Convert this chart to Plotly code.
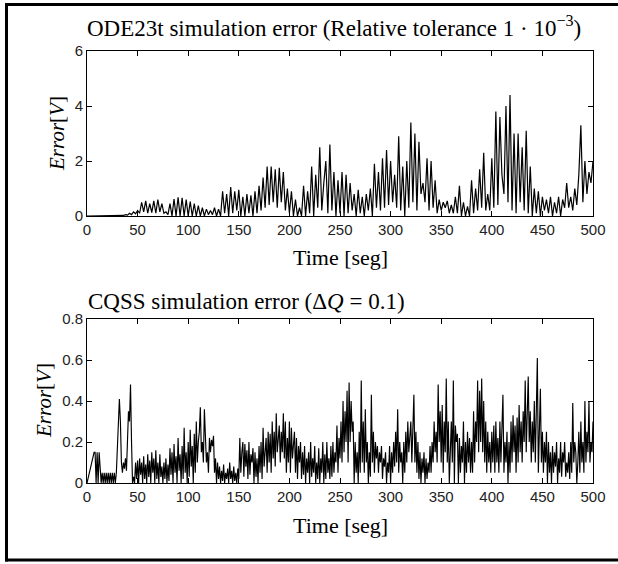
import numpy as np
import plotly.graph_objects as go

# ---------------- data ----------------
DT_ODE = 2.0   # seconds between samples, top trace
DT_CQSS = 1.0  # seconds between samples, bottom trace

ode23t_error = [
    0, 0, 0, 0, 0, 0, 0, 0, 0, 0,
    0, 0, 0, 0, 0, 0, 0, 0, 0.02, 0.05,
    0.03, 0.1, 0.05, 0.15, 0.08, 0.2, 0.1, 0.5, 0.15, 0.55,
    0.1, 0.45, 0.12, 0.55, 0.1, 0.6, 0.15, 0.45, 0.1, 0.15,
    0.05, 0.45, 0.0, 0.62, 0.0, 0.68, 0.0, 0.66, 0.0, 0.6,
    0.0, 0.52, 0.0, 0.45, 0.0, 0.38, 0.0, 0.3, 0.0, 0.25,
    0.05, 0.2, 0.05, 0.3, 0.0, 0.25, 0.0, 0.9, 0.1, 0.8,
    0.0, 1.05, 0.1, 0.9, 0.2, 0.95, 0.0, 0.7, 0.0, 0.8,
    0.1, 0.75, 0.0, 0.9, 0.1, 1.1, 0.2, 1.4, 0.3, 1.8,
    0.4, 1.8, 0.5, 1.7, 0.3, 1.75, 0.5, 1.6, 0.2, 1.0,
    0.1, 0.9, 0.0, 0.6, 0.0, 0.3, 0.0, 1.1, 0.0, 0.9,
    0.1, 1.8, 0.0, 1.5, 0.3, 2.5, 0.2, 1.2, 2.0, 0.1,
    2.6, 0.2, 1.6, 0.0, 1.3, 0.1, 1.6, 0.0, 1.5, 0.1,
    1.2, 0.2, 0.8, 0.0, 0.95, 0.1, 0.7, 0.0, 0.8, 0.2,
    1.0, 0.0, 1.9, 0.3, 1.6, 0.2, 2.1, 0.3, 2.4, 0.4,
    2.0, 0.5, 1.5, 0.3, 2.9, 0.2, 1.8, 0.0, 2.0, 0.3,
    3.4, 0.5, 3.0, 0.2, 2.7, 0.8, 1.2, 0.5, 2.1, 0.2,
    2.0, 0.3, 1.3, 0.1, 0.6, 0.2, 0.5, 0.3, 0.55, 0.1,
    0.4, 0.1, 0.7, 0.1, 1.1, 0.0, 0.5, 0.0, 0.35, 0.0,
    1.3, 0.1, 1.0, 0.2, 1.7, 0.3, 2.3, 0.2, 0.8, 0.2,
    2.1, 0.3, 3.8, 0.4, 3.6, 1.5, 0.8, 4.0, 0.5, 4.4,
    0.2, 3.0, 0.1, 3.0, 0.5, 2.5, 0.2, 3.1, 0.1, 1.8,
    0.0, 1.0, 0.1, 0.9, 0.0, 0.7, 0.2, 0.6, 0.1, 0.7,
    0.0, 0.5, 0.1, 0.7, 0.0, 0.6, 0.3, 1.2, 0.3, 0.7,
    0.2, 1.0, 0.4, 1.5, 3.3, 0.5, 2.0, 0.8, 1.6, 1.2,
    2.0,
]

cqss_error = [
    0, 0.02, 0.04, 0.06, 0.08, 0.1, 0.12, 0.15, 0.15, 0.0, 0.15, 0.0, 0.15, 0.05, 0.0, 0.05, 0.0, 0.05, 0.0, 0.05,
    0.0, 0.05, 0.0, 0.05, 0.0, 0.05, 0.0, 0.05, 0.0, 0.05, 0.2, 0.35, 0.41, 0.3, 0.1, 0.05, 0.1, 0.07, 0.12, 0.06,
    0.2, 0.35, 0.3, 0.48, 0.2, 0.0, 0.03, 0.0, 0.1, 0.02, 0.11, 0.0, 0.12, 0.04, 0.1, 0.0, 0.13, 0.02, 0.09, 0.0,
    0.14, 0.03, 0.11, 0.0, 0.15, 0.05, 0.12, 0.0, 0.16, 0.02, 0.1, 0.0, 0.14, 0.03, 0.08, 0.0, 0.1, 0.02, 0.12, 0.0,
    0.09, 0.01, 0.17, 0.04, 0.15, 0.0, 0.19, 0.05, 0.13, 0.0, 0.22, 0.06, 0.14, 0.0, 0.18, 0.02, 0.27, 0.05, 0.15, 0.0,
    0.2, 0.03, 0.26, 0.08, 0.18, 0.0, 0.24, 0.05, 0.3, 0.1, 0.2, 0.25, 0.37, 0.15, 0.2, 0.1, 0.36, 0.2, 0.1, 0.15,
    0.05, 0.22, 0.15, 0.21, 0.18, 0.23, 0.05, 0.12, 0.0, 0.1, 0.02, 0.08, 0.0, 0.06, 0.01, 0.09, 0.0, 0.05, 0.02, 0.07,
    0.0, 0.1, 0.02, 0.06, 0.0, 0.08, 0.01, 0.05, 0.0, 0.07, 0.02, 0.22, 0.05, 0.15, 0.2, 0.03, 0.19, 0.08, 0.16, 0.02,
    0.2, 0.04, 0.14, 0.1, 0.17, 0.0, 0.15, 0.03, 0.12, 0.0, 0.18, 0.05, 0.2, 0.02, 0.27, 0.08, 0.15, 0.22, 0.05, 0.25,
    0.1, 0.24, 0.05, 0.3, 0.12, 0.25, 0.08, 0.34, 0.15, 0.2, 0.28, 0.1, 0.25, 0.15, 0.34, 0.12, 0.3, 0.05, 0.22, 0.1,
    0.3, 0.05, 0.27, 0.12, 0.2, 0.25, 0.05, 0.22, 0.02, 0.18, 0.1, 0.2, 0.02, 0.15, 0.04, 0.18, 0.0, 0.12, 0.05, 0.15,
    0.0, 0.2, 0.03, 0.12, 0.05, 0.18, 0.0, 0.1, 0.02, 0.17, 0.0, 0.12, 0.05, 0.2, 0.0, 0.14, 0.02, 0.2, 0.05, 0.12,
    0.02, 0.18, 0.03, 0.2, 0.05, 0.15, 0.1, 0.28, 0.05, 0.22, 0.12, 0.3, 0.1, 0.4, 0.15, 0.35, 0.2, 0.45, 0.1, 0.49,
    0.2, 0.4, 0.25, 0.3, 0.0, 0.2, 0.05, 0.15, 0.0, 0.25, 0.05, 0.5, 0.1, 0.3, 0.05, 0.36, 0.1, 0.2, 0.0, 0.15,
    0.03, 0.43, 0.1, 0.25, 0.05, 0.2, 0.12, 0.18, 0.05, 0.15, 0.1, 0.18, 0.02, 0.12, 0.08, 0.15, 0.0, 0.1, 0.05, 0.18,
    0.0, 0.15, 0.05, 0.2, 0.08, 0.25, 0.1, 0.36, 0.05, 0.2, 0.1, 0.15, 0.0, 0.2, 0.05, 0.25, 0.1, 0.3, 0.15, 0.22,
    0.3, 0.1, 0.25, 0.43, 0.1, 0.25, 0.05, 0.2, 0.02, 0.15, 0.0, 0.12, 0.05, 0.15, 0.0, 0.12, 0.02, 0.1, 0.05, 0.18,
    0.05, 0.2, 0.1, 0.3, 0.15, 0.25, 0.1, 0.48, 0.2, 0.35, 0.1, 0.38, 0.05, 0.3, 0.15, 0.51, 0.1, 0.3, 0.0, 0.2,
    0.3, 0.1, 0.5, 0.0, 0.28, 0.2, 0.24, 0.0, 0.22, 0.05, 0.18, 0.1, 0.3, 0.0, 0.2, 0.05, 0.25, 0.1, 0.22, 0.05,
    0.2, 0.05, 0.35, 0.1, 0.3, 0.2, 0.5, 0.15, 0.45, 0.2, 0.51, 0.15, 0.4, 0.1, 0.3, 0.05, 0.25, 0.1, 0.2, 0.05,
    0.25, 0.1, 0.28, 0.05, 0.3, 0.1, 0.22, 0.05, 0.3, 0.1, 0.25, 0.43, 0.05, 0.2, 0.1, 0.25, 0.0, 0.2, 0.05, 0.3,
    0.1, 0.33, 0.15, 0.28, 0.05, 0.32, 0.1, 0.38, 0.15, 0.3, 0.1, 0.35, 0.2, 0.5, 0.15, 0.3, 0.52, 0.2, 0.35, 0.1,
    0.3, 0.15, 0.4, 0.1, 0.35, 0.61, 0.05, 0.3, 0.46, 0.1, 0.25, 0.05, 0.2, 0.1, 0.25, 0.0, 0.2, 0.05, 0.15, 0.0,
    0.18, 0.05, 0.15, 0.08, 0.2, 0.0, 0.12, 0.05, 0.2, 0.03, 0.15, 0.1, 0.2, 0.03, 0.1, 0.05, 0.15, 0.02, 0.2, 0.05,
    0.39, 0.1, 0.2, 0.15, 0.0, 0.1, 0.25, 0.05, 0.3, 0.1, 0.2, 0.05, 0.4, 0.1, 0.25, 0.15, 0.4, 0.1, 0.2, 0.15,
    0.3,
]

time_ode = np.arange(len(ode23t_error)) * DT_ODE
time_cqss = np.arange(len(cqss_error)) * DT_CQSS

x_ticks = [0, 50, 100, 150, 200, 250, 300, 350, 400, 450, 500]
y_ticks_top = [0, 2, 4, 6]
y_ticks_bot = [0, 0.2, 0.4, 0.6, 0.8]

title_top = "ODE23t simulation error (Relative tolerance 1 · 10<sup>−3</sup>)"
title_bot = "CQSS simulation error (Δ<i>Q</i> = 0.1)"
x_label = "Time [seg]"
y_label = "<i>Error</i>[<i>V</i>]"

# ---------------- layout helpers ----------------
W, H = 618, 564
def px_x(x):
    return x / W
def px_y(y):
    return 1 - y / H

SERIF = "Liberation Serif"
SANS = "Liberation Sans"

fig = go.Figure()
fig.add_trace(go.Scatter(x=time_ode, y=ode23t_error, mode="lines",
                         line=dict(color="black", width=1.2),
                         xaxis="x", yaxis="y", showlegend=False))
fig.add_trace(go.Scatter(x=time_cqss, y=cqss_error, mode="lines",
                         line=dict(color="black", width=1.15),
                         xaxis="x2", yaxis="y2", showlegend=False))

axis_common = dict(showline=True, linecolor="black", linewidth=1, mirror="ticks",
                   ticks="inside", ticklen=5, tickcolor="black", tickwidth=1,
                   showgrid=False, zeroline=False, automargin=False,
                   tickfont=dict(family=SANS, size=15, color="#222"))

x_dom = [px_x(87), px_x(593)]
fig.update_layout(
    template="none",
    width=W, height=H,
    margin=dict(l=0, r=0, t=0, b=0, pad=0, autoexpand=False),
    paper_bgcolor="white", plot_bgcolor="white",
    xaxis=dict(domain=x_dom, range=[0, 500], tickvals=x_ticks, anchor="y", **axis_common),
    yaxis=dict(domain=[px_y(216), px_y(51)], range=[0, 6], tickvals=y_ticks_top, anchor="x", **axis_common),
    xaxis2=dict(domain=x_dom, range=[0, 500], tickvals=x_ticks, anchor="y2", **axis_common),
    yaxis2=dict(domain=[px_y(483), px_y(319)], range=[0, 0.8], tickvals=y_ticks_bot,
                tickformat="~g", anchor="x2", **axis_common),
)

ann = []
ann.append(dict(text=title_top, x=px_x(85), y=px_y(27), xref="paper", yref="paper",
                xanchor="left", yanchor="middle", showarrow=False,
                font=dict(family=SERIF, size=23, color="black")))
ann.append(dict(text=title_bot, x=px_x(86), y=px_y(301), xref="paper", yref="paper",
                xanchor="left", yanchor="middle", showarrow=False,
                font=dict(family=SERIF, size=23, color="black")))
for yc in (258, 525):
    ann.append(dict(text=x_label, x=px_x(340), y=px_y(yc), xref="paper", yref="paper",
                    xanchor="center", yanchor="middle", showarrow=False,
                    font=dict(family=SERIF, size=22, color="black")))
for xc, yc in ((57, 134), (44, 401)):
    ann.append(dict(text=y_label, x=px_x(xc), y=px_y(yc), xref="paper", yref="paper",
                    xanchor="center", yanchor="middle", showarrow=False, textangle=-90,
                    font=dict(family=SERIF, size=21, color="black")))
fig.update_layout(annotations=ann)

# outer frame drawn as separate edges
frame = dict(color="black", width=3)
fig.add_shape(type="line", xref="paper", yref="paper", layer="above",
              x0=px_x(5), x1=1, y0=px_y(4.5), y1=px_y(4.5), line=frame)
fig.add_shape(type="line", xref="paper", yref="paper", layer="above",
              x0=px_x(5), x1=1, y0=px_y(560), y1=px_y(560), line=frame)
fig.add_shape(type="line", xref="paper", yref="paper", layer="above",
              x0=px_x(6.5), x1=px_x(6.5), y0=px_y(561.5), y1=px_y(3), line=frame)

fig.write_html("out.html", post_script="document.body.style.margin='0px';")
